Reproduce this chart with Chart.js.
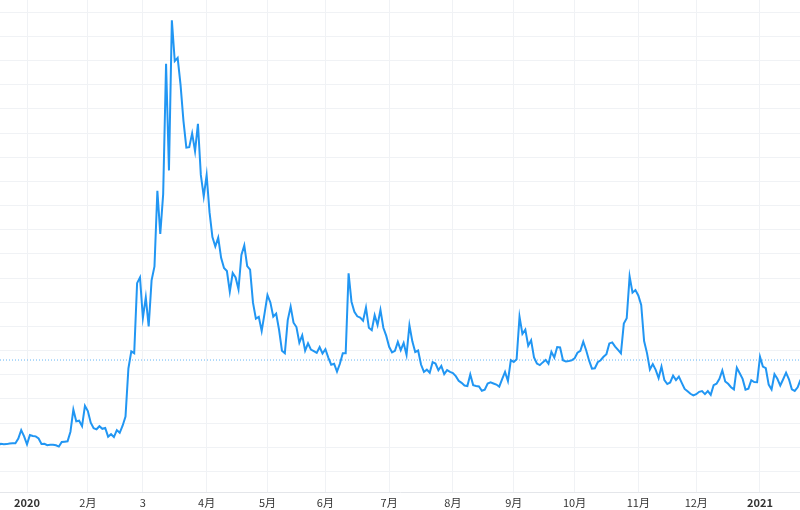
<!DOCTYPE html>
<html>
<head>
<meta charset="utf-8">
<script src="https://cdn.jsdelivr.net/npm/chart.js@4"></script>
<style>
    html, body { margin: 0; padding: 0; background: #ffffff; }
    #wrap { width: 800px; height: 510px; position: relative; }
</style>
</head>
<body>
<div id="wrap"><canvas id="vixChart"></canvas></div>
<script>
// daily closes, one value per trading day
const dec2019 = [12.29, 12.58, 12.50, 12.51, 12.61, 12.67, 12.65, 13.43, 14.82, 13.78];
const jan2020 = [12.47, 14.02, 13.85, 13.79, 13.45, 12.54, 12.56, 12.32, 12.39, 12.42, 12.32, 12.10, 12.85, 12.91, 12.98, 14.56, 18.23, 16.28, 16.39, 15.49, 18.84];
const feb2020 = [17.97, 16.05, 15.15, 14.96, 15.47, 15.04, 15.18, 13.74, 14.15, 13.68, 14.83, 14.38, 15.56, 17.08, 25.03, 27.85, 27.56, 39.16, 40.11];
const mar2020 = [33.42, 36.82, 31.99, 39.62, 41.94, 54.46, 47.30, 53.90, 75.47, 57.83, 82.69, 75.91, 76.45, 72.00, 66.04, 61.59, 61.67, 63.95, 61.00, 65.54, 57.08, 53.54];
const apr2020 = [57.06, 50.91, 46.80, 45.24, 46.70, 43.35, 41.67, 41.17, 37.76, 40.84, 40.11, 38.15, 43.83, 45.41, 41.98, 41.38, 35.93, 33.29, 33.57, 31.23, 34.15];
const may2020 = [37.19, 35.97, 33.61, 34.12, 31.44, 27.98, 27.57, 33.04, 35.28, 32.61, 31.89, 29.30, 30.53, 27.99, 29.20, 28.16, 27.91, 27.62, 28.59, 27.51];
const jun2020 = [28.23, 26.84, 25.66, 25.81, 24.52, 25.81, 27.57, 27.57, 40.79, 36.09, 34.40, 33.67, 33.47, 32.94, 35.12, 31.77, 31.37, 33.84, 32.22, 34.73, 31.78, 30.43];
const jul2020 = [28.62, 27.68, 27.94, 29.43, 28.08, 29.26, 27.29, 32.19, 29.52, 27.76, 28.00, 25.68, 24.46, 24.84, 24.32, 26.08, 25.84, 24.74, 25.44, 24.10, 24.76, 24.46];
const aug2020 = [24.28, 23.76, 23.00, 22.65, 22.21, 22.13, 24.03, 22.28, 22.13, 22.05, 21.35, 21.51, 22.54, 22.72, 22.54, 22.37, 22.03, 23.27, 24.47, 22.96, 26.41];
const sep2020 = [26.12, 26.57, 33.60, 30.75, 31.46, 28.81, 29.71, 26.87, 25.85, 25.59, 26.04, 26.46, 25.83, 27.78, 26.86, 28.58, 28.51, 26.38, 26.19, 26.27, 26.37];
const oct2020 = [26.70, 27.63, 27.96, 29.48, 28.06, 26.36, 25.00, 25.07, 26.07, 26.40, 26.97, 27.41, 29.18, 29.35, 28.65, 28.11, 27.55, 32.46, 33.35, 40.28, 37.59, 38.02];
const nov2020 = [37.13, 35.55, 29.57, 27.58, 24.86, 25.75, 24.80, 23.45, 25.35, 23.10, 22.45, 22.71, 23.84, 23.11, 23.70, 22.66, 21.64, 21.25, 20.84, 20.57];
const dec2020 = [20.77, 21.17, 21.28, 20.79, 21.30, 20.68, 22.27, 22.52, 23.31, 24.72, 22.89, 22.50, 21.93, 21.57, 25.16, 24.23, 23.31, 21.53, 21.70, 23.08, 22.77, 22.75];
const jan2021 = [26.97, 25.34, 25.07, 22.37, 21.56, 24.08, 23.33, 22.21, 23.25, 24.34, 23.24, 21.58, 21.32, 21.91, 23.19];

const monthLabels = ['2020', '2月', '3', '4月', '5月', '6月', '7月', '8月', '9月', '10月', '11月', '12月', '2021'];
const yearLabels = ['2020', '2021'];
const refLevel = 26.43;

const months = [jan2020, feb2020, mar2020, apr2020, may2020, jun2020, jul2020,
    aug2020, sep2020, oct2020, nov2020, dec2020, jan2021];

// x = trading day index, 0 = first session of 2020
const points = [];
dec2019.forEach((v, i) => points.push({ x: i - dec2019.length, y: v }));
const monthStarts = [];
let idx = 0;
months.forEach(m => {
    monthStarts.push(idx);
    m.forEach(v => { points.push({ x: idx, y: v }); idx++; });
});

const xMin = -9.32;
const xMax = 266.81;
const gridColor = '#f0f2f5';

new Chart(document.getElementById('vixChart'), {
    type: 'line',
    data: {
        datasets: [{
            data: points,
            borderColor: '#2196f3',
            borderWidth: 2,
            pointRadius: 0,
            tension: 0,
            fill: false
        }, {
            data: [{ x: xMin, y: refLevel }, { x: xMax, y: refLevel }],
            borderColor: '#64b5f6',
            borderWidth: 1,
            borderDash: [1, 2],
            pointRadius: 0,
            fill: false
        }]
    },
    options: {
        responsive: true,
        maintainAspectRatio: false,
        animation: false,
        layout: { padding: 0 },
        plugins: {
            legend: { display: false },
            tooltip: { enabled: false }
        },
        scales: {
            x: {
                type: 'linear',
                min: xMin,
                max: xMax,
                afterBuildTicks: scale => {
                    scale.ticks = monthStarts.map(v => ({ value: v }));
                },
                afterFit: scale => { scale.height = 18; },
                ticks: {
                    autoSkip: false,
                    maxRotation: 0,
                    padding: 4,
                    color: '#333333',
                    font: ctx => {
                        const lbl = ctx.tick ? monthLabels[monthStarts.indexOf(ctx.tick.value)] : '';
                        return {
                            family: '"Noto Sans CJK SC", "Noto Sans", sans-serif',
                            size: 11,
                            weight: yearLabels.includes(lbl) ? 'bold' : 'normal'
                        };
                    },
                    callback: value => monthLabels[monthStarts.indexOf(value)]
                },
                grid: { color: gridColor, drawTicks: false },
                border: { display: true, color: '#e4e6ea' }
            },
            y: {
                min: 4.58,
                max: 86.04,
                afterFit: scale => { scale.width = 0; },
                ticks: { display: false, stepSize: 4, includeBounds: false },
                grid: { color: gridColor, drawTicks: false },
                border: { display: false }
            }
        }
    }
});
</script>
</body>
</html>
